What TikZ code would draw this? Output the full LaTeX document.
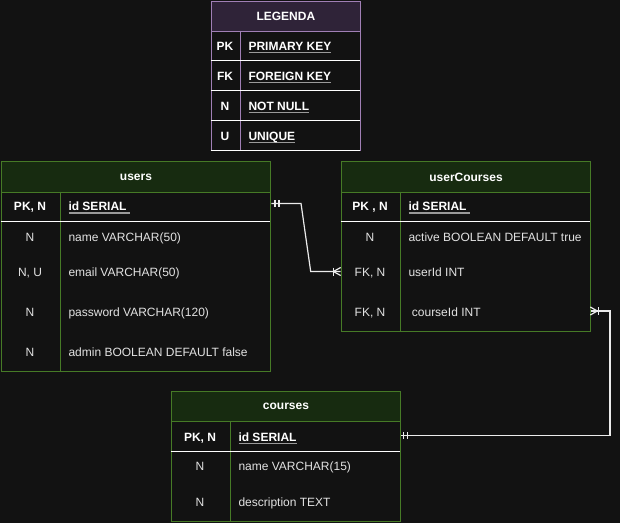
\documentclass[tikz,border=0pt]{standalone}
\usepackage{fontspec}
\setmainfont{Liberation Sans}
\definecolor{bg}{HTML}{121212}
\definecolor{grnhead}{HTML}{172B10}
\definecolor{grnline}{HTML}{467A26}
\definecolor{prphead}{HTML}{2F2338}
\definecolor{prpline}{HTML}{A07FB5}
\definecolor{txt}{HTML}{E2E2E2}
\definecolor{ulgrey}{HTML}{9A9A9A}
\newsavebox{\keybox}
\newcommand{\ulkey}[1]{\sbox{\keybox}{#1}\rlap{\color{ulgrey}\rule[-3pt]{\wd\keybox}{1.5pt}}\usebox{\keybox}}
\tikzset{
  cell/.style={text=txt, font=\fontsize{12}{14}\selectfont, inner sep=0pt, text height=8.5pt, text depth=2.5pt},
  keycell/.style={cell},
  keybold/.style={cell, text=white, font=\fontsize{12}{14}\selectfont\bfseries},
  valcell/.style={cell, anchor=west},
  valbold/.style={keybold, anchor=west},
  grnbox/.style={draw=grnline, line width=1pt, fill=bg, inner sep=0pt, anchor=north west},
  grnhd/.style={grnbox, fill=grnhead, text=white, font=\fontsize{12}{14}\selectfont\bfseries},
  prpbox/.style={draw=prpline, line width=1pt, fill=bg, inner sep=0pt, anchor=north west},
  prphd/.style={prpbox, fill=prphead, text=white, font=\fontsize{12}{14}\selectfont\bfseries},
  sepline/.style={draw=white, line width=1.3pt},
  conn/.style={draw=white!92!black, line width=1.2pt}
}
\begin{document}
\begin{tikzpicture}[x=1pt,y=-1pt]
% background
\fill[bg] (0,0) rectangle (620,523);
\useasboundingbox (0,0) rectangle (620,523);

% legend
\node[prpbox, minimum width=149.3pt, minimum height=149.3pt] (legend) at (210.7,1) {};
\node[prphd, minimum width=149.3pt, minimum height=29.7pt] (legendHead) at (210.7,1) {LEGENDA};
\draw[prpline, line width=1pt] (240.3,30.7) -- (240.3,150.3);
\draw[sepline] (210.7,60.3) -- (360,60.3);
\draw[sepline] (210.7,90.3) -- (360,90.3);
\draw[sepline] (210.7,120.3) -- (360,120.3);
\draw[sepline] (210.7,150.3) -- (360,150.3);
\node[keybold] (lgPK) at (225,47) {PK};
\node[valbold] (lgPKtxt) at (248.3,47) {\ulkey{PRIMARY KEY}};
\node[keybold] (lgFK) at (225,77) {FK};
\node[valbold] (lgFKtxt) at (248.3,77) {\ulkey{FOREIGN KEY}};
\node[keybold] (lgN) at (225,107) {N};
\node[valbold] (lgNtxt) at (248.3,107) {\ulkey{NOT NULL}};
\node[keybold] (lgU) at (225,137) {U};
\node[valbold] (lgUtxt) at (248.3,137) {\ulkey{UNIQUE}};

% users
\node[grnbox, minimum width=269.6pt, minimum height=210pt] (users) at (0.7,161.3) {};
\node[grnhd, minimum width=269.6pt, minimum height=30.4pt] (usersHead) at (0.7,161.3) {users};
\draw[grnline, line width=1pt] (60.3,191.7) -- (60.3,371.3);
\draw[sepline] (0.7,221.3) -- (270.3,221.3);
\node[keybold] (uPK) at (30,207.5) {PK, N};
\node[valbold] (uId) at (68.3,207.5) {\ulkey{id SERIAL\ }};
\node[keycell] (uNameK) at (30,238.3) {N};
\node[valcell] (uName) at (68.3,238.3) {name VARCHAR(50)};
\node[keycell] (uEmailK) at (30,273) {N, U};
\node[valcell] (uEmail) at (68.3,273) {email VARCHAR(50)};
\node[keycell] (uPassK) at (30,313.3) {N};
\node[valcell] (uPass) at (68.3,313.3) {password VARCHAR(120)};
\node[keycell] (uAdminK) at (30,353.3) {N};
\node[valcell] (uAdmin) at (68.3,353.3) {admin BOOLEAN DEFAULT false};

% userCourses
\node[grnbox, minimum width=249.6pt, minimum height=170pt] (uc) at (340.7,161.3) {};
\node[grnhd, minimum width=249.6pt, minimum height=30.4pt] (ucHead) at (340.7,161.3) {userCourses};
\draw[grnline, line width=1pt] (400.3,191.7) -- (400.3,331.3);
\draw[sepline] (340.7,221.3) -- (590.3,221.3);
\node[keybold] (ucPK) at (370,207.5) {PK , N};
\node[valbold] (ucId) at (408.3,207.5) {\ulkey{id SERIAL\ }};
\node[keycell] (ucActiveK) at (370,238) {N};
\node[valcell] (ucActive) at (408.3,238) {active BOOLEAN DEFAULT true};
\node[keycell] (ucUserK) at (370,273) {FK, N};
\node[valcell] (ucUser) at (408.3,273) {userId INT};
\node[keycell] (ucCourseK) at (370,313) {FK, N};
\node[valcell] (ucCourse) at (411.7,313) {courseId INT};

% courses
\node[grnbox, minimum width=229.6pt, minimum height=130pt] (courses) at (170.7,391.3) {};
\node[grnhd, minimum width=229.6pt, minimum height=30pt] (coursesHead) at (170.7,391.3) {courses};
\draw[grnline, line width=1pt] (230.3,421.3) -- (230.3,521.3);
\draw[sepline] (170.7,451.3) -- (400.3,451.3);
\node[keybold] (cPK) at (200,438.3) {PK, N};
\node[valbold] (cId) at (238.3,438.3) {\ulkey{id SERIAL}};
\node[keycell] (cNameK) at (200,467.7) {N};
\node[valcell] (cName) at (238.3,467.7) {name VARCHAR(15)};
\node[keycell] (cDescK) at (200,503.3) {N};
\node[valcell] (cDesc) at (238.3,503.3) {description TEXT};

% users -> userCourses
\coordinate (k1a) at (301,203.5);
\coordinate (k1b) at (310.7,271.5);
\draw[conn] ([yshift=4pt]users.east |- uId) -- (k1a) -- (k1b) -- ([yshift=1.5pt]uc.west |- ucUser);
% one
\draw[conn] (275,200) -- (275,207);
\draw[conn] (279,200) -- (279,207);
% one or many
\draw[conn] (333.3,267.5) -- (333.3,275.5);
\draw[conn] (340.7,267.5) -- (333.3,271.5) -- (340.7,275.5);

% courses -> userCourses
\coordinate (k2a) at (610,435.7);
\coordinate (k2b) at (610,311);
\draw[conn] ([yshift=2.6pt]courses.east |- cId) -- (k2a) -- (k2b) -- ([yshift=2pt]uc.east |- ucCourse);
% one
\draw[conn] (403.3,432.2) -- (403.3,439.2);
\draw[conn] (407.3,432.2) -- (407.3,439.2);
% one or many
\draw[conn] (598.3,307) -- (598.3,315);
\draw[conn] (590.3,307) -- (597.3,311) -- (590.3,315);
\end{tikzpicture}
\end{document}
